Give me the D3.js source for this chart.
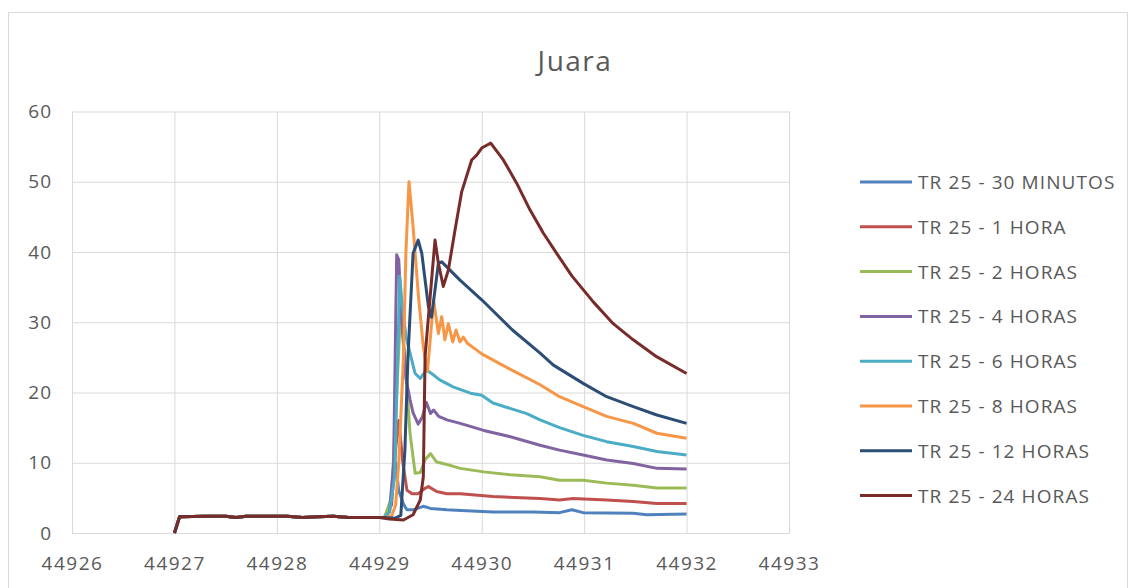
<!DOCTYPE html>
<html>
<head>
<meta charset="utf-8">
<script src="https://cdn.jsdelivr.net/npm/d3@7"></script>
<style>
  body { margin: 0; background: #fff; }
  text { font-family: "Open Sans", sans-serif; fill: #595959; }
</style>
</head>
<body>
<div id="chart"></div>
<script>
// series names and colours (Excel 2010 palette)
var seriesNames = ["TR 25 - 30 MINUTOS", "TR 25 - 1 HORA", "TR 25 - 2 HORAS", "TR 25 - 4 HORAS",
    "TR 25 - 6 HORAS", "TR 25 - 8 HORAS", "TR 25 - 12 HORAS", "TR 25 - 24 HORAS"];
var seriesColors = ["#4F81BD", "#C0504D", "#9BBB59", "#8064A2", "#4BACC6", "#F79646", "#2C4D75", "#772C2A"];

var xTicks = [44926, 44927, 44928, 44929, 44930, 44931, 44932, 44933];
var yTicks = [0, 10, 20, 30, 40, 50, 60];

// flat stretch shared by all series before the storm
var baseFlow = [[44927, 0], [44927.05, 2.3], [44927.3, 2.4], [44927.5, 2.4], [44927.6, 2.2], [44927.7, 2.4],
    [44928.1, 2.4], [44928.25, 2.2], [44928.4, 2.3], [44928.55, 2.4], [44928.7, 2.2], [44929.0, 2.2]];

var min30 = [[44929.05, 2.2], [44929.10, 3.5], [44929.14, 8], [44929.16, 10], [44929.19, 6], [44929.24, 4.0],
    [44929.27, 3.3], [44929.33, 3.3], [44929.43, 3.8], [44929.50, 3.5], [44929.66, 3.3], [44929.8, 3.2],
    [44930.11, 3.0], [44930.5, 3.0], [44930.76, 2.9], [44930.88, 3.3], [44930.99, 2.9], [44931.48, 2.8],
    [44931.61, 2.6], [44932.0, 2.7]];

var hr1 = [[44929.05, 2.2], [44929.12, 4], [44929.16, 12], [44929.19, 16], [44929.23, 10], [44929.27, 6.1],
    [44929.32, 5.6], [44929.38, 5.6], [44929.45, 6.4], [44929.48, 6.6], [44929.56, 5.9], [44929.66, 5.6],
    [44929.79, 5.6], [44930.11, 5.2], [44930.57, 4.9], [44930.76, 4.7], [44930.89, 4.9], [44931.22, 4.7],
    [44931.48, 4.5], [44931.71, 4.2], [44932.0, 4.2]];

var hr2 = [[44929.05, 2.2], [44929.12, 5], [44929.17, 20], [44929.21, 32], [44929.25, 25], [44929.30, 14.2],
    [44929.35, 8.5], [44929.40, 8.6], [44929.45, 10.5], [44929.50, 11.3], [44929.56, 10.1], [44929.70, 9.6],
    [44929.79, 9.2], [44930.02, 8.7], [44930.28, 8.3], [44930.57, 8.0], [44930.76, 7.5], [44930.99, 7.5],
    [44931.22, 7.1], [44931.48, 6.8], [44931.71, 6.4], [44932.0, 6.4]];

var hr4 = [[44929.05, 2.2], [44929.10, 3], [44929.14, 10], [44929.16, 30], [44929.17, 39.6], [44929.19, 38.9],
    [44929.22, 30], [44929.26, 22], [44929.30, 19], [44929.33, 17.1], [44929.38, 15.5], [44929.42, 16.5],
    [44929.46, 18.6], [44929.50, 17.0], [44929.53, 17.5], [44929.58, 16.6], [44929.66, 16.1], [44929.79, 15.6],
    [44930.02, 14.6], [44930.28, 13.7], [44930.57, 12.5], [44930.76, 11.8], [44930.99, 11.1], [44931.22, 10.4],
    [44931.48, 9.9], [44931.71, 9.2], [44932.0, 9.1]];

var hr6 = [[44929.05, 2.2], [44929.10, 3], [44929.15, 8], [44929.18, 25], [44929.20, 36.5], [44929.22, 33],
    [44929.26, 28], [44929.30, 25.6], [44929.35, 22.7], [44929.40, 22.0], [44929.46, 23.2], [44929.51, 22.7],
    [44929.59, 21.8], [44929.72, 20.8], [44929.89, 19.9], [44930.0, 19.6], [44930.11, 18.5], [44930.44, 17.0],
    [44930.57, 16.1], [44930.76, 15.0], [44930.99, 13.9], [44931.22, 13.0], [44931.48, 12.3], [44931.71, 11.6],
    [44932.0, 11.1]];

var hr8 = [[44929.05, 2.2], [44929.12, 2.4], [44929.16, 4], [44929.19, 10], [44929.235, 24.6], [44929.26, 40],
    [44929.29, 50.0], [44929.33, 43.6], [44929.38, 34.1], [44929.43, 26.5], [44929.47, 23.0], [44929.50, 28],
    [44929.53, 33.2], [44929.577, 28.4], [44929.61, 30.8], [44929.64, 27.5], [44929.674, 29.8], [44929.717, 27.2],
    [44929.749, 28.9], [44929.788, 27.2], [44929.82, 27.9], [44929.86, 27.0], [44930.0, 25.5], [44930.28, 23.3],
    [44930.57, 21.1], [44930.76, 19.4], [44930.99, 18.0], [44931.22, 16.6], [44931.48, 15.6], [44931.71, 14.2],
    [44932.0, 13.5]];

var hr12 = [[44929.05, 2.2], [44929.15, 2.1], [44929.21, 2.5], [44929.25, 11.8], [44929.28, 25.1], [44929.33, 39.8],
    [44929.38, 41.7], [44929.415, 39.8], [44929.48, 32.2], [44929.51, 30.7], [44929.577, 38.4], [44929.61, 38.6],
    [44929.788, 36.0], [44930.0, 33.2], [44930.3, 28.9], [44930.57, 25.6], [44930.70, 23.9], [44930.99, 21.3],
    [44931.22, 19.4], [44931.48, 18.0], [44931.71, 16.8], [44932.0, 15.6]];

var hr24 = [[44929.1, 2.0], [44929.235, 1.85], [44929.33, 2.6], [44929.40, 4.7], [44929.43, 8.0], [44929.447, 25.1],
    [44929.48, 30.8], [44929.544, 41.7], [44929.577, 38.4], [44929.625, 35.1], [44929.674, 37.4], [44929.739, 43.1],
    [44929.805, 48.6], [44929.902, 53.1], [44929.951, 53.8], [44930.0, 54.8], [44930.049, 55.2], [44930.088, 55.5],
    [44930.211, 53.1], [44930.341, 49.8], [44930.471, 46.0], [44930.601, 42.7], [44930.732, 39.8], [44930.88, 36.6],
    [44931.089, 32.9], [44931.284, 29.8], [44931.479, 27.5], [44931.707, 25.1], [44932.0, 22.7]];

var seriesValues = [min30, hr1, hr2, hr4, hr6, hr8, hr12, hr24];

function drawChart() {
    var w = 1134;
    var h = 588;
    var left = 72, right = 789, top = 111.5, bottom = 533;

    var svg = d3.select("#chart")
        .append("svg")
        .attr("width", w)
        .attr("height", h);

    // chart border
    svg.append("rect")
        .attr("x", 8.5).attr("y", 12.5)
        .attr("width", 1119).attr("height", 600)
        .attr("fill", "none")
        .attr("stroke", "#D9D9D9");

    var x = d3.scaleLinear().domain([44926, 44933]).range([left, right]);
    var y = d3.scaleLinear().domain([0, 60]).range([bottom, top]);

    //Gridlines come from the axes with long ticks
    var yAxis = svg.append("g")
        .attr("transform", "translate(" + left + ",0)")
        .call(d3.axisLeft(y).tickValues(yTicks).tickSize(-(right - left)).tickPadding(20));
    yAxis.select(".domain").remove();
    yAxis.selectAll("line").attr("stroke", "#D9D9D9");
    yAxis.selectAll("text").attr("font-size", 19).attr("letter-spacing", 1)
        .style("font-family", "'Open Sans', sans-serif").attr("fill", "#595959");

    var xAxis = svg.append("g")
        .attr("transform", "translate(0," + bottom + ")")
        .call(d3.axisBottom(x).tickValues(xTicks).tickFormat(d3.format("d")).tickSize(-(bottom - top)).tickPadding(24));
    xAxis.select(".domain").attr("stroke", "#D9D9D9");
    xAxis.selectAll("line").attr("stroke", "#D9D9D9");
    xAxis.selectAll("text").attr("font-size", 19).attr("letter-spacing", 1.5)
        .style("font-family", "'Open Sans', sans-serif").attr("fill", "#595959");

    var line = d3.line()
        .x(function (d) { return x(d[0]); })
        .y(function (d) { return y(d[1]); });

    seriesValues.forEach(function (vals, i) {
        var pts = baseFlow.concat(vals);
        svg.append("path")
            .datum(pts)
            .attr("fill", "none")
            .attr("stroke", seriesColors[i])
            .attr("stroke-width", 3)
            .attr("stroke-linejoin", "round")
            .attr("d", line);
    });

    // title
    svg.append("text")
        .attr("x", 575)
        .attr("y", 60)
        .attr("text-anchor", "middle")
        .attr("dominant-baseline", "central")
        .attr("font-size", 28)
        .attr("letter-spacing", 1.5)
        .text("Juara");

    // legend
    var legend = svg.selectAll(".leg")
        .data(seriesNames)
        .enter()
        .append("g")
        .attr("class", "leg")
        .attr("transform", function (d, i) { return "translate(860," + (182 + i * 44.8) + ")"; });

    legend.append("line")
        .attr("x1", 0).attr("x2", 52)
        .attr("stroke", function (d, i) { return seriesColors[i]; })
        .attr("stroke-width", 3);

    legend.append("text")
        .attr("x", 58)
        .attr("dominant-baseline", "central")
        .attr("font-size", 19)
        .attr("letter-spacing", 1.1)
        .text(function (d) { return d; });
}

drawChart();
</script>
</body>
</html>
